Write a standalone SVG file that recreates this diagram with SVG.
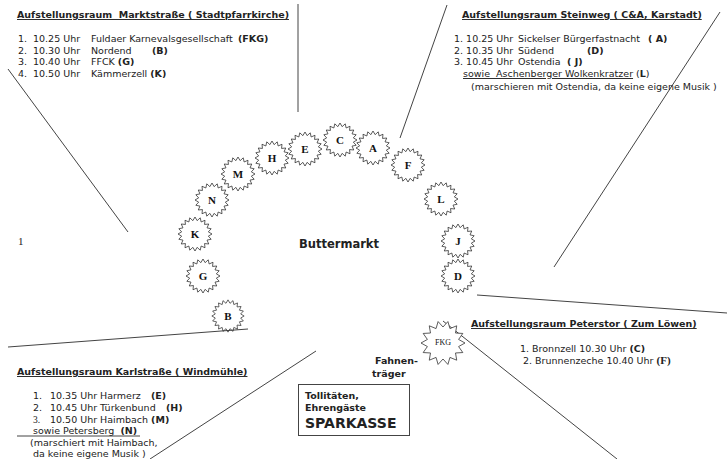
<svg xmlns="http://www.w3.org/2000/svg" width="727" height="459" viewBox="0 0 727 459">
<style>
text{font-family:"DejaVu Sans",Verdana,sans-serif;font-size:9.5px;fill:#222}
.h{font-weight:bold;text-decoration:underline}
.b{font-weight:bold}
.big{font-weight:bold;font-size:11.5px}
.sp{font-weight:bold;font-size:14px}
.serif{font-family:"Liberation Serif","Times New Roman",serif}
.lbl{font-family:"Liberation Serif","Times New Roman",serif;font-weight:bold;font-size:11px;text-anchor:middle;fill:#111}
.fkg{font-family:"Liberation Serif","Times New Roman",serif;font-size:8px;text-anchor:middle;fill:#111}
.ln{stroke:#444;stroke-width:1;fill:none}
.star{fill:none;stroke:#333;stroke-width:0.8}
.starw{fill:#fff;stroke:#333;stroke-width:0.8}
</style>
<defs>
<polygon id="sb" points="17,0 13.33,2.11 16.17,5.25 12.03,6.13 13.75,9.99 9.55,9.55 9.99,13.75 6.13,12.03 5.25,16.17 2.11,13.33 0,17 -2.11,13.33 -5.25,16.17 -6.13,12.03 -9.99,13.75 -9.55,9.55 -13.75,9.99 -12.03,6.13 -16.17,5.25 -13.33,2.11 -17,0 -13.33,-2.11 -16.17,-5.25 -12.03,-6.13 -13.75,-9.99 -9.55,-9.55 -9.99,-13.75 -6.13,-12.03 -5.25,-16.17 -2.11,-13.33 0,-17 2.11,-13.33 5.25,-16.17 6.13,-12.03 9.99,-13.75 9.55,-9.55 13.75,-9.99 12.03,-6.13 16.17,-5.25 13.33,-2.11"/>
<polygon id="sbl" points="22,0 15.6,3.56 19.82,9.55 12.51,9.98 13.72,17.2 6.94,14.42 4.9,21.45 0,16 -4.9,21.45 -6.94,14.42 -13.72,17.2 -12.51,9.98 -19.82,9.55 -15.6,3.56 -22,0 -15.6,-3.56 -19.82,-9.55 -12.51,-9.98 -13.72,-17.2 -6.94,-14.42 -4.9,-21.45 0,-16 4.9,-21.45 6.94,-14.42 13.72,-17.2 12.51,-9.98 19.82,-9.55 15.6,-3.56"/>
</defs>
<rect width="727" height="459" fill="#fff"/>

<g id="connectors">
<line class="ln" x1="8" y1="69" x2="128" y2="232"/>
<line class="ln" x1="298" y1="4" x2="298" y2="112"/>
<line class="ln" x1="447" y1="5" x2="400" y2="138"/>
<line class="ln" x1="720" y1="12" x2="554" y2="267"/>
<line class="ln" x1="477" y1="295" x2="727" y2="313"/>
<line class="ln" x1="8" y1="347" x2="248" y2="329"/>
<line class="ln" x1="316" y1="351" x2="150" y2="459"/>
<line class="ln" x1="443" y1="321" x2="617" y2="459"/>
<line class="ln" x1="17" y1="436" x2="140" y2="436"/>
</g>

<g id="marktstrasse">
<text class="h" x="17" y="18" xml:space="preserve">Aufstellungsraum  Marktstraße ( Stadtpfarrkirche)</text>
<text y="42"><tspan x="18">1.</tspan><tspan x="33">10.25 Uhr</tspan><tspan x="91">Fuldaer Karnevalsgesellschaft</tspan><tspan x="238" class="b">(FKG)</tspan></text>
<text y="54"><tspan x="18">2.</tspan><tspan x="33">10.30 Uhr</tspan><tspan x="91">Nordend</tspan><tspan x="152" class="b">(B)</tspan></text>
<text y="65"><tspan x="18">3.</tspan><tspan x="33">10.40 Uhr</tspan><tspan x="91">FFCK </tspan><tspan class="b">(G)</tspan></text>
<text y="77"><tspan x="18">4.</tspan><tspan x="33">10.50 Uhr</tspan><tspan x="91">Kämmerzell </tspan><tspan class="b">(K)</tspan></text>
</g>

<g id="steinweg">
<text class="h" x="462" y="18">Aufstellungsraum Steinweg ( C&amp;A, Karstadt)</text>
<text y="42"><tspan x="454">1. 10.25 Uhr</tspan><tspan x="518">Sickelser Bürgerfastnacht</tspan><tspan x="648" class="b">( A)</tspan></text>
<text y="54"><tspan x="454">2. 10.35 Uhr</tspan><tspan x="518">Südend</tspan><tspan x="587" class="b">(D)</tspan></text>
<text y="65"><tspan x="454">3. 10.45 Uhr</tspan><tspan x="518">Ostendia </tspan><tspan x="567" class="b">( J)</tspan></text>
<text y="77" xml:space="preserve"><tspan x="463" text-decoration="underline">sowie  Aschenberger Wolkenkratzer</tspan><tspan> (</tspan><tspan class="b">L</tspan><tspan>)</tspan></text>
<text x="471" y="90">(marschieren mit Ostendia, da keine eigene Musik )</text>
</g>

<g id="karlstrasse">
<text class="h" x="17" y="375">Aufstellungsraum Karlstraße ( Windmühle)</text>
<text y="399"><tspan x="33">1.</tspan><tspan x="50">10.35 Uhr Harmerz</tspan><tspan x="151" class="b">(E)</tspan></text>
<text y="411"><tspan x="33">2.</tspan><tspan x="50">10.45 Uhr Türkenbund</tspan><tspan x="166" class="b">(H)</tspan></text>
<text y="423"><tspan x="33" class="serif">3.</tspan><tspan x="50">10.50 Uhr Haimbach </tspan><tspan class="b">(M)</tspan></text>
<text y="434" xml:space="preserve"><tspan x="33">sowie Petersberg  </tspan><tspan class="b">(N)</tspan></text>
<text x="30" y="446">(marschiert mit Haimbach,</text>
<text x="33" y="457">da keine eigene Musik )</text>
</g>

<g id="peterstor">
<text class="h" x="471" y="327">Aufstellungsraum Peterstor ( Zum Löwen)</text>
<text y="352"><tspan x="520">1. Bronnzell 10.30 Uhr </tspan><tspan class="b">(C)</tspan></text>
<text y="364"><tspan x="523">2. Brunnenzeche 10.40 Uhr </tspan><tspan class="serif b" style="font-size:11px">(F)</tspan></text>
</g>

<g id="buttermarkt"><text class="big" x="299" y="248">Buttermarkt</text></g>
<g id="one"><text class="serif" x="18" y="245" style="font-size:11px">1</text></g>

<g id="sparkasse">
<rect x="298.5" y="384.5" width="111" height="51" fill="#fff" stroke="#444"/>
<text class="b" x="305" y="399">Tollitäten,</text>
<text class="b" x="305" y="411">Ehrengäste</text>
<text class="sp" x="305" y="428">SPARKASSE</text>
</g>

<g id="fahnentraeger">
<text class="b" x="418" y="364" text-anchor="end">Fahnen-</text>
<text class="b" x="372" y="377">träger</text>
</g>

<g id="node-B"><use href="#sb" class="star" transform="translate(228,316) scale(0.95)"/><text class="lbl" x="228" y="320">B</text></g>
<g id="node-G"><use href="#sb" class="star" transform="translate(203,276)"/><text class="lbl" x="203" y="280">G</text></g>
<g id="node-K"><use href="#sb" class="star" transform="translate(195,234)"/><text class="lbl" x="195" y="238">K</text></g>
<g id="node-N"><use href="#sb" class="star" transform="translate(212,200)"/><text class="lbl" x="212" y="204">N</text></g>
<g id="node-M"><use href="#sb" class="star" transform="translate(238,174)"/><text class="lbl" x="238" y="178">M</text></g>
<g id="node-H"><use href="#sb" class="star" transform="translate(272,158)"/><text class="lbl" x="272" y="162">H</text></g>
<g id="node-E"><use href="#sb" class="star" transform="translate(305,149)"/><text class="lbl" x="305" y="153">E</text></g>
<g id="node-C"><use href="#sb" class="star" transform="translate(340,140)"/><text class="lbl" x="340" y="144">C</text></g>
<g id="node-A"><use href="#sb" class="star" transform="translate(373,148)"/><text class="lbl" x="373" y="152">A</text></g>
<g id="node-F"><use href="#sb" class="star" transform="translate(408,165)"/><text class="lbl" x="408" y="169">F</text></g>
<g id="node-L"><use href="#sb" class="star" transform="translate(441,199)"/><text class="lbl" x="441" y="203">L</text></g>
<g id="node-J"><use href="#sb" class="star" transform="translate(458,241)"/><text class="lbl" x="458" y="245">J</text></g>
<g id="node-D"><use href="#sb" class="star" transform="translate(458,276)"/><text class="lbl" x="458" y="280">D</text></g>
<g id="node-FKG"><use href="#sbl" class="starw" transform="translate(443,343)"/><text class="fkg" x="443" y="345">FKG</text></g>
</svg>
